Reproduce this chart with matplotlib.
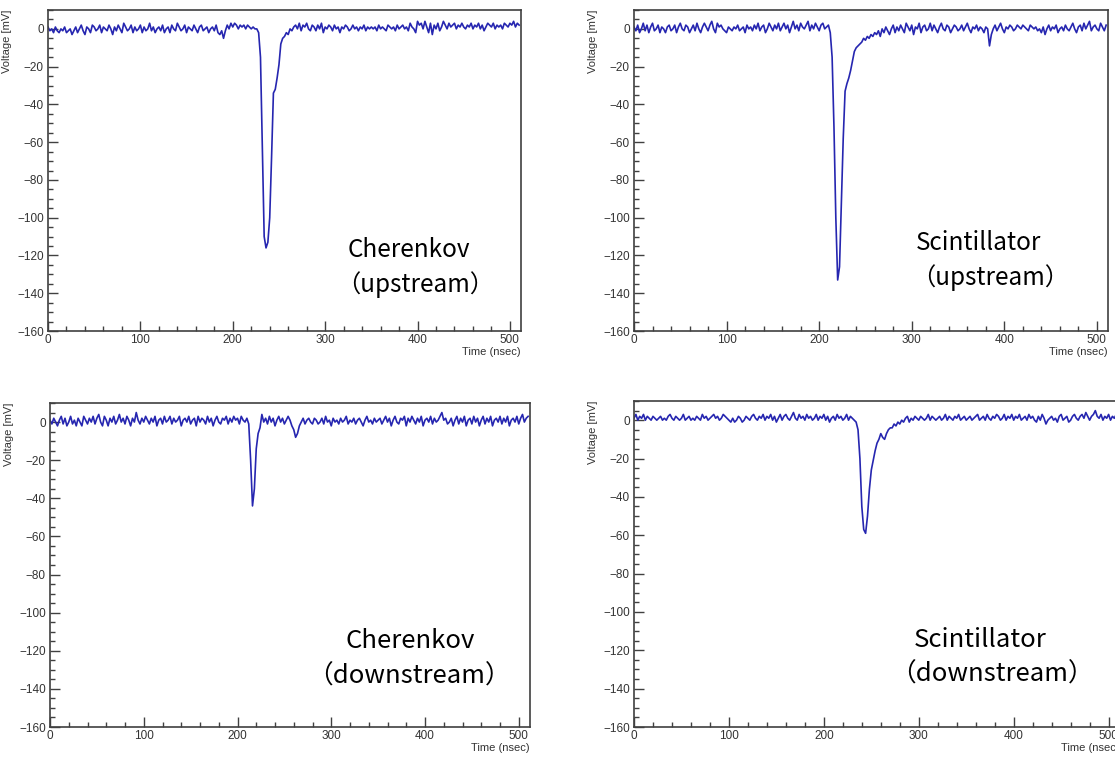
import numpy as np
import matplotlib
matplotlib.use("Agg")
import matplotlib.pyplot as plt
from matplotlib.ticker import MultipleLocator

# waveform samples, 2 nsec apart, starting at t = 0 (mV)
cher_up = [
    1, -1, 0, -2, 1, -1, -2, 0, -1, 1, -2, -1, 0, -3, -1, 1,
    -2, 0, 2, -1, -3, 1, 0, -2, 2, 1, -1, 0, 2, -2, 1, 0,
    -1, 2, 0, -3, 1, -1, 2, 0, -2, 3, 1, -1, 0, 2, -2, 1,
    -1, 0, 2, -2, 1, -1, 0, 3, -1, 1, -2, 0, 1, -1, 2, -2,
    0, 1, -2, 2, 0, -1, 3, 1, -1, 0, 2, -2, 1, 0, -1, 2,
    0, -2, 1, 2, -1, 0, 1, -2, 0, 1, -1, 2, -2, -3, -1, -5,
    -1, 2, 0, 3, 1, 3, 2, 0, 2, 1, 2, 0, 2, 1, 0, 1,
    0, 0, -2, -15, -62, -110, -116, -113, -100, -68, -34, -32, -26, -19, -8, -5,
    -4, -2, -3, 0, -1, 1, 2, 0, 3, -1, 2, 1, 3, 0, -1, 2,
    1, -1, 2, 0, 3, -2, 1, 0, 2, 1, -1, 2, 0, 1, -2, 1,
    0, 2, 1, -1, 0, 2, 0, 1, -1, 1, 0, 2, -1, 1, 0, 1,
    0, 1, -1, 2, 0, 1, 0, -1, 2, 1, 0, 1, -1, 2, 0, 1,
    2, 0, 1, -1, 3, 1, 0, -2, 4, 2, 3, 0, 4, 1, -2, 3,
    -3, 2, 0, 3, -1, 1, 4, 2, 0, 3, 1, 2, 3, 0, 2, 1,
    3, 1, 0, 2, 1, 3, 0, 2, 1, 3, 0, 2, -1, 1, 3, 2,
    1, 3, 0, 2, 1, 2, 0, 3, 2, 1, 3, 2, 4, 1, 3, 2,
]

scint_up = [
    1, -1, 2, -2, 0, 3, -1, 2, -2, 1, 3, -1, 0, 2, -2, 1,
    0, -2, 1, 2, -1, 0, 2, -2, 1, 3, 0, -1, 2, 1, -2, 0,
    2, -1, 3, 0, -2, 1, 3, 1, -1, 2, 4, 0, -2, 3, 1, 2,
    0, -1, -2, 1, 0, -1, 1, 0, 2, -1, 0, 1, -2, 2, 0, 1,
    -1, 2, 0, 3, -1, 1, 2, -2, 0, 3, 1, -1, 2, 0, 3, -1,
    1, 3, 0, 2, -2, 1, 4, 0, 2, -1, 3, 1, 0, 2, 4, -1,
    2, 0, 3, 1, -1, 2, 3, 0, 1, 2, -2, -15, -52, -100, -133, -126,
    -92, -58, -33, -29, -26, -22, -17, -12, -10, -9, -8, -7, -5, -6, -4, -5,
    -3, -4, -2, -3, -1, -4, 0, -2, 1, -1, -3, 0, 2, -2, 1, -1,
    2, 0, -2, 3, 1, -1, 2, -3, 1, 0, 3, -2, 1, 2, -1, 0,
    3, -1, 2, 0, -2, 1, 3, 0, -1, 2, 1, -2, 0, 2, 1, -1,
    0, 2, -1, 1, 3, 0, -2, 1, 0, 2, -1, 1, 0, -2, 1, 0,
    -9, -3, 0, 2, -1, 1, 3, 0, -2, 1, 0, 2, 1, -1, 0, 2,
    1, 0, 2, 1, 0, -1, 2, 1, 0, 1, -1, 0, -2, 1, -3, 0,
    2, -1, 1, 0, 2, -2, 0, 1, -1, 2, 0, -1, 1, 3, 0, -2,
    1, 2, -1, 3, 0, 2, 4, -1, 1, 2, 0, -1, 3, 1, -1, 2,
]

cher_down = [
    1, -1, 2, 0, -2, 1, 3, -1, 2, -2, 0, 3, -1, 1, -2, 2,
    0, -2, 3, 1, -1, 2, 0, 3, -1, 2, 4, 0, -2, 3, 1, -2,
    2, 0, 3, -1, 1, 4, 0, 2, -1, 3, 1, -2, 2, 0, 5, 1,
    -1, 2, 0, 3, 1, -1, 2, 0, 3, -2, 1, 2, -1, 3, 0, 1,
    3, -1, 2, 0, 1, 3, -2, 1, 2, 0, 3, -1, 1, 2, -2, 3,
    0, 2, 1, -1, 3, 0, 2, -2, 1, 3, 0, -1, 2, 1, 3, -1,
    2, 0, 3, 1, 2, -1, 3, 1, 0, 2, -1, -20, -44, -35, -14, -6,
    -3, 4, 0, 2, -1, 3, 0, 2, -2, 1, 3, 0, 2, -1, 1, 3,
    1, -2, -4, -8, -6, -2, 0, 2, -1, 1, 2, 0, -1, 2, 1, -1,
    0, 2, -1, 3, 0, 1, -2, 2, 0, 1, -1, 2, 0, 1, 3, -1,
    1, 0, 2, -1, 1, 2, 0, -2, 1, 3, 0, 1, -1, 2, 0, 1,
    2, -1, 1, 3, 0, 2, -2, 1, 3, 0, -1, 2, 1, 3, -2, 2,
    0, 3, 1, -1, 2, 0, 3, -2, 1, 2, 0, 3, -1, 2, 0, 1,
    3, 5, 1, 2, -1, 0, 2, -2, 1, 3, -1, 2, 0, 3, -2, 1,
    2, -1, 3, 0, 2, -2, 1, 3, -1, 2, 0, 3, -2, 1, 2, 0,
    3, -1, 2, 0, 3, -2, 1, 2, 0, 3, -1, 2, 4, 0, 2, 3,
]

scint_down = [
    1, 3, 0, 2, 1, 3, 0, 2, 1, 0, 2, 1, 0, 1, 2, 0,
    1, 0, 2, 3, 1, 0, 2, 1, 0, 1, 3, 0, 1, 2, 0, 1,
    0, 2, 1, 0, 3, 1, 2, 0, 1, 2, 3, 1, 2, 0, 1, 3,
    2, 1, 0, -1, 1, -1, 0, 2, 1, -1, 0, 2, 1, 0, 2, 3,
    1, 0, 2, 1, 3, 0, 2, 1, 3, 0, 2, -1, 1, 3, 0, 2,
    3, 1, 0, 2, 4, 1, 0, 3, 1, 2, 0, 3, 1, 2, 0, 1,
    3, 0, 2, 1, 3, 0, 2, -1, 1, 2, 0, 3, 1, 2, 0, 1,
    3, 0, 2, 1, 0, -1, -5, -20, -45, -57, -59, -50, -36, -26, -21, -16,
    -12, -10, -7, -9, -10, -7, -5, -4, -4, -2, -3, -1, -2, 0, -1, 1,
    2, -1, 1, 0, 2, 1, 0, 2, 1, 0, 1, 3, 0, 2, 1, 0,
    1, 2, 0, 1, 3, 0, 2, 1, 0, 2, 1, 3, 0, 1, 2, 0,
    1, 2, 0, 1, 2, 3, 0, 1, 2, 0, 3, 1, 0, 2, 1, 3,
    2, 0, 1, 3, 0, 2, 1, 3, 0, 2, 1, 3, 0, 1, 2, 0,
    3, 1, 2, 0, -1, 2, 0, 3, 1, -2, 0, 1, 2, 0, 1, -1,
    2, 3, 0, 1, 2, -1, 0, 2, 3, 1, 0, 2, 3, 1, 4, 2,
    0, 2, 3, 5, 2, 1, 3, 0, 2, 1, 3, 0, 2, 1, 3, 2,
]

labels = [("Cherenkov", "（upstream）"), ("Scintillator", "（upstream）"),
          ("Cherenkov", "（downstream）"), ("Scintillator", "（downstream）")]

W, H = 1115, 762
LINE = "#2626b0"
FRAME = "#404040"

fig = plt.figure(figsize=(W / 100, H / 100), dpi=100)
plt.rcParams["font.family"] = ["Liberation Sans", "DejaVu Sans"]


def make_axes(left, top, right, bottom):
    return fig.add_axes([left / W, 1 - bottom / H, (right - left) / W, (bottom - top) / H])


# pixel boxes of the four ROOT canvases (left, top, right, bottom)
boxes = [(48, 10, 521, 331), (634, 10, 1108, 331),
         (50, 403, 530, 727), (634, 401, 1120, 727)]
series = [cher_up, scint_up, cher_down, scint_down]
# text centres in pixels: (x1, y1, x2, y2, size)
text_pos = [(409, 250, 415, 285, 17.5), (979, 243, 990, 278, 17.5),
            (410, 641, 409, 677, 18.5), (980, 640, 992, 675, 18.5)]

for box, vals, lab, tp in zip(boxes, series, labels, text_pos):
    ax = make_axes(*box)
    t = np.arange(len(vals)) * 2
    ax.plot(t, vals, color=LINE, lw=1.2)
    ax.set_xlim(0, 512)
    ax.set_ylim(-160, 10)
    ax.xaxis.set_major_locator(MultipleLocator(100))
    ax.xaxis.set_minor_locator(MultipleLocator(20))
    ax.yaxis.set_major_locator(MultipleLocator(20))
    ax.yaxis.set_minor_locator(MultipleLocator(5))
    ax.tick_params(which="both", direction="in", colors=FRAME, labelcolor="#333333",
                   labelsize=8.5, width=1.0)
    ax.tick_params(which="major", length=7)
    ax.tick_params(which="minor", length=3.5)
    ax.tick_params(axis="y", pad=3)
    ax.tick_params(axis="x", pad=2)
    for s in ax.spines.values():
        s.set_color(FRAME)
        s.set_linewidth(1.2)
    ax.set_ylabel("Voltage [mV]", fontsize=8, color="#333333", loc="top", labelpad=4)
    ax.set_xlabel("Time (nsec)", fontsize=8, color="#333333", loc="right", labelpad=1)

    x1, y1, x2, y2, fs = tp
    fig.text(x1 / W, 1 - y1 / H, lab[0], ha="center", va="center", fontsize=fs,
             family=["Noto Sans CJK JP", "DejaVu Sans"], color="black")
    fig.text(x2 / W, 1 - y2 / H, lab[1], ha="center", va="center", fontsize=fs,
             family=["Noto Sans CJK JP", "DejaVu Sans"], color="black")

fig.savefig("out.png", dpi=100)
plt.close(fig)
